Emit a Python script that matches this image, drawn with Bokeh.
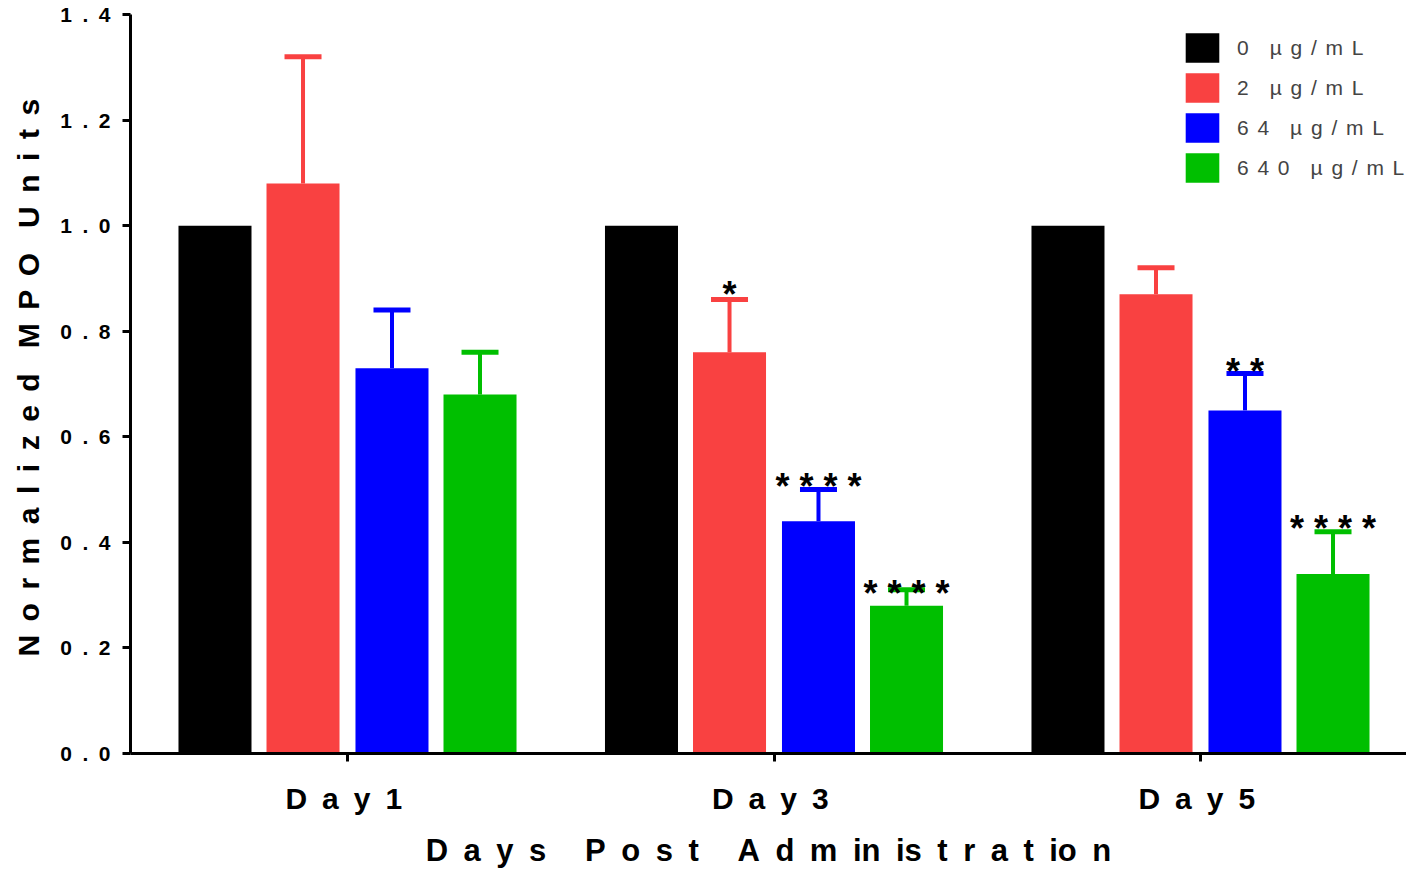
from bokeh.plotting import figure
from bokeh.models import (Range1d, FixedTicker, CustomJSTickFormatter,
                          Whisker, TeeHead, ColumnDataSource, Legend, LegendItem)
from bokeh.core.properties import value
from bokeh.embed import file_html
from bokeh.resources import INLINE

# ---------------- data ----------------
days = ["Day 1", "Day 3", "Day 5"]
doses = ["0 µg/mL", "2 µg/mL", "64 µg/mL", "640 µg/mL"]
mean_0 = [1.00, 1.00, 1.00]
mean_2 = [1.08, 0.76, 0.87]
mean_64 = [0.73, 0.44, 0.65]
mean_640 = [0.68, 0.28, 0.34]
err_2 = [0.24, 0.10, 0.05]
err_64 = [0.11, 0.06, 0.07]
err_640 = [0.08, 0.03, 0.08]
ann_day = ["Day 3", "Day 3", "Day 3", "Day 5", "Day 5"]
ann_dose = ["2 µg/mL", "64 µg/mL", "640 µg/mL", "64 µg/mL", "640 µg/mL"]
ann_text = ["*", "****", "****", "**", "****"]
ann_level = [0.879, 0.515, 0.3125, 0.733, 0.4366]
y_ticks = [0.0, 0.2, 0.4, 0.6, 0.8, 1.0, 1.2, 1.4]
x_title = "Days Post Administration"
y_title = "Normalized MPO Units"

colors = ["#000000", "#F94141", "#0000FF", "#00BF00"]
EN = "\u2002"


def track(s, letter=EN, word=EN + "\u2005"):
    return word.join(letter.join(w) for w in s.split(" "))


means = [mean_0, mean_2, mean_64, mean_640]
errs = [None, err_2, err_64, err_640]
offsets = [-0.3107, -0.1043, 0.1043, 0.3107]
bar_w = 0.1712
FONT = "Liberation Sans"
day_pos = list(range(len(days)))

p = figure(x_range=Range1d(-0.5088, 2.483), y_range=Range1d(0, 1.4),
           width=1406, height=871, output_backend="svg", toolbar_location=None,
           min_border_left=130, min_border_right=0, min_border_top=14, min_border_bottom=118)
p.outline_line_color = None
p.grid.grid_line_color = None
p.background_fill_color = "white"

renderers = []
for i, dose in enumerate(doses):
    xs = [k + offsets[i] for k in day_pos]
    src = dict(x=xs, top=means[i])
    if errs[i] is not None:
        src["upper"] = [m + e for m, e in zip(means[i], errs[i])]
    source = ColumnDataSource(src)
    r = p.vbar(x="x", top="top", width=bar_w, source=source,
               fill_color=colors[i], line_color=None)
    renderers.append(r)
    if errs[i] is not None:
        w = Whisker(source=source, base="x", lower="top", upper="upper", dimension="height",
                    line_color=colors[i], line_width=4, lower_head=None,
                    upper_head=TeeHead(size=37, line_width=5, line_color=colors[i]))
        p.add_layout(w)

# significance asterisks
ann_x = [days.index(d) + offsets[doses.index(g)] for d, g in zip(ann_day, ann_dose)]
ann_src = ColumnDataSource(dict(x=ann_x, y=ann_level, t=[" ".join(t) for t in ann_text]))
p.text(x="x", y="y", text="t", source=ann_src,
       text_align="center", text_baseline="alphabetic", y_offset=5,
       text_font=value(FONT), text_font_style="bold", text_font_size="36px",
       text_color="black")

# axes
for ax in (p.xaxis[0], p.yaxis[0]):
    ax.axis_line_width = 3
    ax.axis_line_color = "black"
    ax.major_tick_line_width = 3
    ax.major_tick_line_color = "black"
    ax.major_tick_in = 0
    ax.major_tick_out = 8
    ax.minor_tick_line_color = None
    ax.major_label_text_font = FONT
    ax.major_label_text_font_style = "bold"
    ax.major_label_text_color = "black"
    ax.axis_label_text_font = FONT
    ax.axis_label_text_font_style = "bold"
    ax.axis_label_text_color = "black"

p.yaxis.ticker = FixedTicker(ticks=y_ticks)
p.yaxis.formatter = CustomJSTickFormatter(code="return tick.toFixed(1).split('').join('\u2002');")
p.yaxis.major_label_text_font_size = "21px"
p.yaxis.major_label_standoff = 12
p.yaxis.axis_label = "\u2005\u2006" + track(y_title, "\u2005\u2009", EN + "\u2004")
p.yaxis.axis_label_text_font_size = "30px"
p.yaxis.axis_label_standoff = 12

p.xaxis.ticker = FixedTicker(ticks=day_pos)
p.xaxis.major_label_overrides = {k: track(d, EN, EN) + "\u2005" for k, d in zip(day_pos, days)}
p.xaxis.major_label_text_font_size = "30px"
p.xaxis.major_label_standoff = 20

xt_tokens = ["D a y s", "P o s t", "A d m in is t r a t io n"]
p.xaxis.axis_label = ("\u2003\u2005").join(EN.join(w.split(" ")) for w in xt_tokens)
p.xaxis.axis_label_text_font_size = "31px"
p.xaxis.axis_label_standoff = 15

legend = Legend(items=[LegendItem(label=track(d, "\u2005\u2006", "\u2003"), renderers=[r])
                       for d, r in zip(doses, renderers)],
                location=(1051, 567), glyph_width=42, glyph_height=37, label_height=37,
                spacing=3, padding=0, margin=0, label_standoff=14,
                label_text_font=FONT, label_text_font_size="21px",
                label_text_baseline="middle",
                border_line_color=None, background_fill_alpha=0)
p.add_layout(legend, "center")

open("out.html", "w").write(file_html(p, INLINE))
